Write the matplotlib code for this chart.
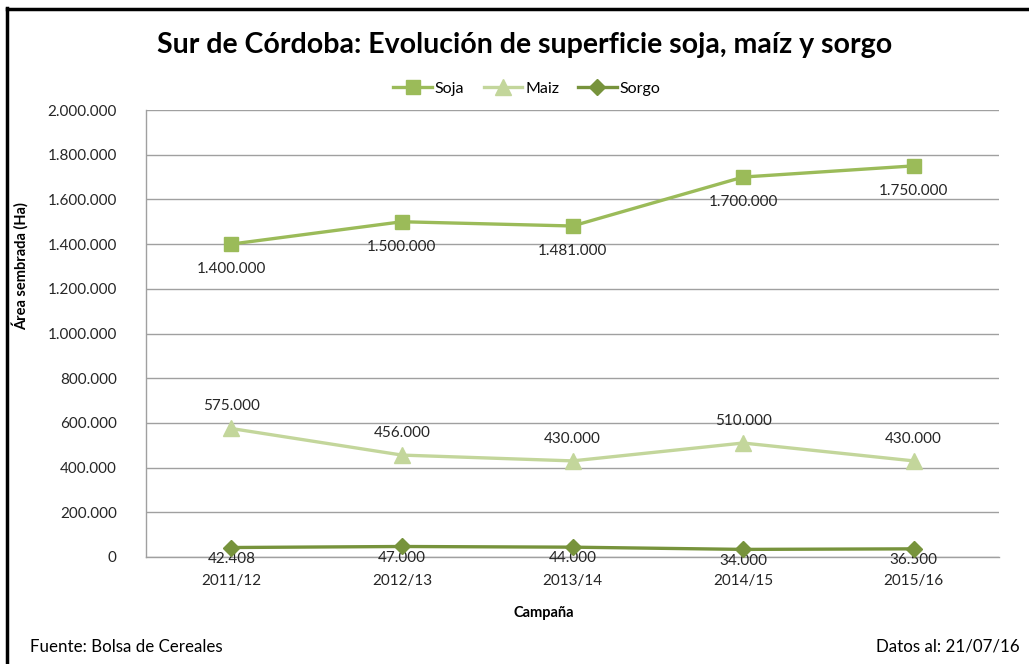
import matplotlib
matplotlib.use("Agg")
import matplotlib.pyplot as plt
from matplotlib.lines import Line2D
from matplotlib.ticker import FuncFormatter

plt.rcParams['font.family'] = ['Lato', 'DejaVu Sans']

campanas = ["2011/12", "2012/13", "2013/14", "2014/15", "2015/16"]
soja = [1400000, 1500000, 1481000, 1700000, 1750000]
maiz = [575000, 456000, 430000, 510000, 430000]
sorgo = [42408, 47000, 44000, 34000, 36500]

c_soja = "#9BBB59"
c_maiz = "#C3D69B"
c_sorgo = "#77933C"

def fmt(v):
    return f"{int(v):,}".replace(",", ".")

fig = plt.figure(figsize=(10.29, 6.64), dpi=100)
ax = fig.add_axes([146/1029, 1-557/664, (999-146)/1029, (557-110)/664])

x = list(range(len(campanas)))
ax.plot(x, soja, color=c_soja, lw=2.4, marker='s', ms=10, label="Soja", zorder=4)
ax.plot(x, maiz, color=c_maiz, lw=2.4, marker='^', ms=11, label="Maiz", zorder=4)
ax.plot(x, sorgo, color=c_sorgo, lw=2.4, marker='D', ms=8, label="Sorgo", zorder=4)

for xi, v in zip(x, soja):
    ax.annotate(fmt(v), (xi, v), xytext=(0, -18), textcoords='offset points',
                ha='center', va='center', fontsize=11, color='#262626')
for xi, v in zip(x, maiz):
    ax.annotate(fmt(v), (xi, v), xytext=(0, 16), textcoords='offset points',
                ha='center', va='center', fontsize=11, color='#262626')
for xi, v in zip(x, sorgo):
    ax.annotate(fmt(v), (xi, v), xytext=(0, -8), textcoords='offset points',
                ha='center', va='center', fontsize=11, color='#262626')

ax.set_xlim(-0.5, len(campanas) - 0.5)
ax.set_ylim(0, 2000000)
ax.set_yticks(range(0, 2000001, 200000))
ax.yaxis.set_major_formatter(FuncFormatter(lambda v, p: fmt(v)))
ax.set_xticks(x)
ax.set_xticklabels(campanas)
ax.tick_params(axis='both', length=0, labelsize=11, colors='#262626')
ax.tick_params(axis='x', pad=12)
ax.tick_params(axis='y', pad=21)
ax.grid(axis='y', color='#A0A0A0', lw=1)
ax.set_axisbelow(True)
for s in ['top', 'right']:
    ax.spines[s].set_visible(False)
for s in ['left', 'bottom']:
    ax.spines[s].set_color('#A0A0A0')
    ax.spines[s].set_linewidth(1)

ax.set_ylabel("Área sembrada (Ha)", fontsize=10.5, fontweight='bold')
ax.yaxis.set_label_coords(-0.138, 0.651)
ax.set_xlabel("Campaña", fontsize=10.5, fontweight='bold')
ax.xaxis.set_label_coords(0.466, -0.11)

fig.text(525/1029, 1-45/664, "Sur de Córdoba: Evolución de superficie soja, maíz y sorgo",
         ha='center', va='center', fontsize=20.5, fontweight='bold', color='black')

leg = fig.legend(loc='center', bbox_to_anchor=(527/1029, 1-89/664), ncol=3, frameon=False,
                 fontsize=11.5, handlelength=2.4, columnspacing=1.2, handletextpad=0.2)

fig.text(30/1029, 1-647/664, "Fuente: Bolsa de Cereales", ha='left', va='center', fontsize=12.2)
fig.text(1020/1029, 1-647/664, "Datos al: 21/07/16", ha='right', va='center', fontsize=12.2)

fig.add_artist(Line2D([7/1029, 7/1029], [0, 1-8/664], transform=fig.transFigure, color='black', lw=2.5))
fig.add_artist(Line2D([7/1029, 1], [1-9/664, 1-9/664], transform=fig.transFigure, color='black', lw=2.5))

fig.savefig("out.png", dpi=100)
